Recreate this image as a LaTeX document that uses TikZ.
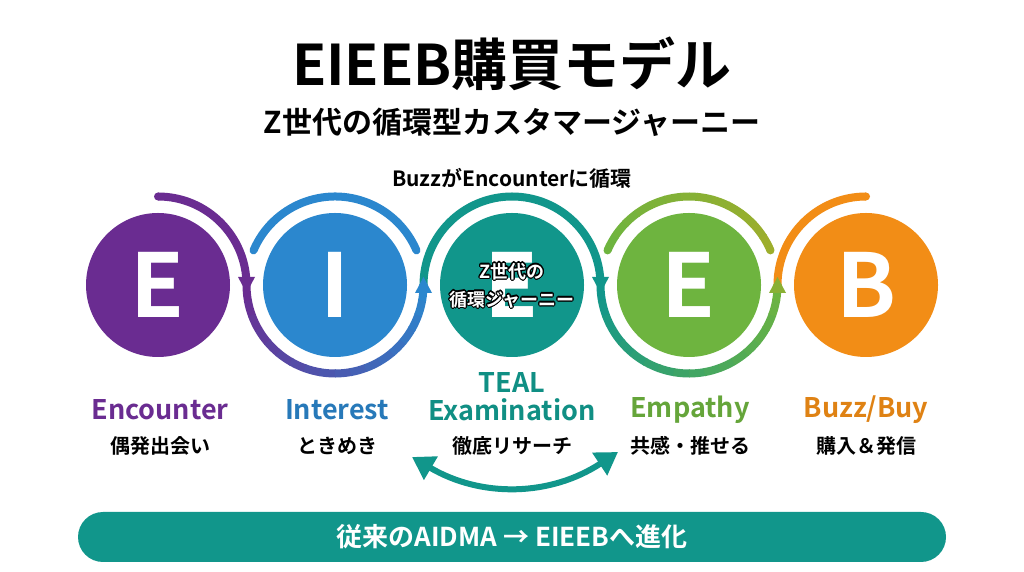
\documentclass[tikz,border=0pt]{standalone}
\usepackage{fontspec}
\setmainfont{Noto Sans CJK JP}[UprightFont=* Bold]
\usepackage{contour}
\contourlength{1.1pt}
\usetikzlibrary{arrows.meta}
\definecolor{cPurple}{HTML}{6A2C91}
\definecolor{cBlue}{HTML}{2B87CE}
\definecolor{cTeal}{HTML}{11968B}
\definecolor{cGreen}{HTML}{6EB43F}
\definecolor{cOlive}{HTML}{9DAE2C}
\definecolor{cOrange}{HTML}{F28D16}
\newcommand{\fsz}[1]{\fontsize{#1}{#1}\selectfont}
\newcommand{\headdown}[2]{\fill[#1] (#2) ++(-8.5,8) -- ++(17,0) -- ++(-8.5,-16) -- cycle;}
\newcommand{\headup}[2]{\fill[#1] (#2) ++(-8.5,-8) -- ++(17,0) -- ++(-8.5,16) -- cycle;}
\begin{document}
\begin{tikzpicture}[x=1pt,y=1pt,
  stage/.style={circle,minimum size=144pt,inner sep=0pt,text=white,font=\fsz{88}},
  ring/.style={line width=8pt},
  stagename/.style={font=\fsz{27}},
  stagenote/.style={font=\fsz{20}}]
\useasboundingbox[fill=white] (0,0) rectangle (1024,572);

\node[font=\fsz{56}] (title) at (512,508) {EIEEB購買モデル};
\node[font=\fsz{30}] (sub) at (512,450) {Z世代の循環型カスタマージャーニー};
\node[font=\fsz{21}] (buzz) at (512,394) {BuzzがEncounterに循環};

\node[stage,fill=cPurple] (E1) at (158,287) {E};
\node[stage,fill=cBlue] (I) at (335,287) {I};
\node[stage,fill=cTeal] (X) at (512,287) {E};
\node[stage,fill=cGreen] (E2) at (689,287) {E};
\node[stage,fill=cOrange] (B) at (866,287) {B};
\node[text=white,align=center,font=\fontsize{18}{28}\selectfont] (gen) at (512,286)
  {\contour{black}{Z世代の}\\\contour{black}{循環ジャーニー}};

\coordinate (j1) at (246.5,287);
\coordinate (j2) at (423.5,287);
\coordinate (j3) at (600.5,287);
\coordinate (j4) at (777.5,287);

\draw[ring,cPurple] (E1.center) ++(90:88.5) arc (90:0:88.5);
\foreach \k in {0,...,17}{
  \pgfmathsetmacro\p{100-100*\k/17}
  \draw[ring,cPurple!\p!cBlue] (I.center) ++(180+10*\k:88.5) arc (180+10*\k:190.6+10*\k:88.5);
}
\draw[ring,cBlue,line cap=round] (I.center) ++(157:88.5) arc (157:23:88.5);
\draw[ring,cTeal] (X.center) ++(180:88.5) arc (180:0:88.5);
\foreach \k in {0,...,17}{
  \pgfmathsetmacro\p{100-100*\k/17}
  \draw[ring,cTeal!\p!cGreen] (E2.center) ++(180+10*\k:88.5) arc (180+10*\k:190.6+10*\k:88.5);
}
\foreach \k in {0,...,12}{
  \pgfmathsetmacro\p{100*\k/12}
  \draw[ring,cOlive!\p!cGreen] (E2.center) ++(157-10.3*\k:88.5) arc (157-10.3*\k:146.2-10.3*\k:88.5);
}
\fill[cGreen] (E2.center) ++(157:88.5) circle (4);
\fill[cOlive] (E2.center) ++(23:88.5) circle (4);
\draw[ring,cOrange] (B.center) ++(180:88.5) arc (180:90:88.5);
\fill[cOrange] (B.center) ++(90:88.5) circle (4);
\fill[cPurple] (E1.center) ++(90:88.5) circle (4);

\headdown{cPurple}{j1}
\headup{cBlue}{j2}
\headdown{cTeal}{j3}
\headup{cOlive!60!cGreen}{j4}

\node[stagename,text=cPurple] (n1) at (160,162) {Encounter};
\node[stagenote] (m1) at (160,126) {偶発出会い};
\node[stagename,text=cBlue!90!black] (n2) at (337,162) {Interest};
\node[stagenote] (m2) at (337,126) {ときめき};
\node[stagename,text=cTeal!95!black] (n0) at (512,189) {TEAL};
\node[stagename,text=cTeal!95!black] (n3) at (512,162) {Examination};
\node[stagenote] (m3) at (512,126) {徹底リサーチ};
\node[stagename,text=cGreen!92!black] (n4) at (690,162) {Empathy};
\node[stagenote] (m4) at (690,126) {共感・推せる};
\node[stagename,text=cOrange!92!black] (n5) at (866,162) {Buzz/Buy};
\node[stagenote] (m5) at (866,126) {購入＆発信};

\coordinate (dL) at (412,115);
\coordinate (dR) at (618,120);
\draw[cTeal,line width=6pt,{Triangle[length=22pt,width=26pt]}-{Triangle[length=22pt,width=26pt]}]
  (dL) to[bend right=32] (dR);

\node[fill=cTeal,rounded corners=25pt,minimum width=868pt,minimum height=50pt,
  text=white,font=\fsz{26}] (bar) at (512,35) {従来のAIDMA → EIEEBへ進化};
\end{tikzpicture}
\end{document}
